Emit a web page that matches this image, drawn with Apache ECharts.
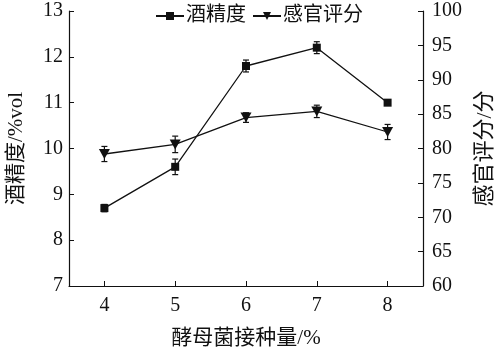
<!DOCTYPE html>
<html>
<head>
<meta charset="utf-8">
<script src="https://cdn.jsdelivr.net/npm/echarts@6/dist/echarts.min.js"></script>
<style>
html,body{margin:0;padding:0;background:#fff;}
#c{width:495px;height:355px;}
</style>
</head>
<body>
<div id="c"></div>
<script>
var categories = ['4', '5', '6', '7', '8'];
var alcohol = [8.7, 9.6, 11.8, 12.2, 11.0];
var alcoholErr = [0.08, 0.17, 0.13, 0.13, 0.03];
var sensory = [79.2, 80.6, 84.5, 85.4, 82.4];
var sensoryErr = [1.1, 1.2, 0.7, 0.9, 1.1];
var leftTicks = {min: 7, max: 13, interval: 1};
var rightTicks = {min: 60, max: 100, interval: 5};

var FONT = "'Times New Roman','Liberation Serif','Noto Sans CJK SC',serif";
var chart = echarts.init(document.getElementById('c'), null, {renderer: 'canvas'});

function errData(vals, errs) {
  return vals.map(function (v, i) { return [i, v - errs[i], v + errs[i]]; });
}
function errRender(params, api) {
  var x = api.value(0);
  var lo = api.coord([x, api.value(1)]);
  var hi = api.coord([x, api.value(2)]);
  var w = 3;
  var st = {stroke: '#111', lineWidth: 1.2};
  return {
    type: 'group',
    children: [
      {type: 'line', shape: {x1: lo[0], y1: lo[1], x2: hi[0], y2: hi[1]}, style: st},
      {type: 'line', shape: {x1: lo[0] - w, y1: lo[1], x2: lo[0] + w, y2: lo[1]}, style: st},
      {type: 'line', shape: {x1: hi[0] - w, y1: hi[1], x2: hi[0] + w, y2: hi[1]}, style: st}
    ]
  };
}

var axisLineStyle = {show: true, lineStyle: {color: '#111', width: 1.2}};
var labelStyle = {color: '#111', fontFamily: FONT, fontSize: 20};

chart.setOption({
  animation: false,
  backgroundColor: '#fff',
  textStyle: {fontFamily: FONT},
  legend: {
    data: ['酒精度', '感官评分'],
    left: 150,
    top: 1,
    itemWidth: 28,
    itemHeight: 10,
    itemGap: 6,
    textStyle: {color: '#111', fontFamily: FONT, fontSize: 20, padding: [0, 0, 0, -3]}
  },
  grid: {left: 69, right: 72, top: 11, bottom: 69, containLabel: false, outerBoundsMode: 'none'},
  xAxis: {
    type: 'category',
    data: categories,
    boundaryGap: true,
    axisLine: axisLineStyle,
    axisTick: {show: true, inside: true, alignWithLabel: true, length: 5, lineStyle: {color: '#111'}},
    axisLabel: Object.assign({margin: 10}, labelStyle),
    splitLine: {show: false},
    name: '酵母菌接种量/%',
    nameLocation: 'middle',
    nameGap: 42,
    nameTextStyle: {color: '#111', fontFamily: FONT, fontSize: 21}
  },
  yAxis: [{
    type: 'value',
    position: 'left',
    min: leftTicks.min, max: leftTicks.max, interval: leftTicks.interval,
    axisLine: axisLineStyle,
    axisTick: {show: true, inside: true, length: 5, lineStyle: {color: '#111'}},
    axisLabel: Object.assign({margin: 6}, labelStyle),
    splitLine: {show: false},
    name: '酒精度/%vol',
    nameLocation: 'middle',
    nameRotate: 90,
    nameGap: 42,
    nameTextStyle: {color: '#111', fontFamily: FONT, fontSize: 21}
  }, {
    type: 'value',
    position: 'right',
    min: rightTicks.min, max: rightTicks.max, interval: rightTicks.interval,
    axisLine: axisLineStyle,
    axisTick: {show: true, inside: true, length: 5, lineStyle: {color: '#111'}},
    axisLabel: Object.assign({margin: 9}, labelStyle),
    splitLine: {show: false},
    name: '感官评分/分',
    nameLocation: 'middle',
    nameRotate: 90,
    nameGap: 51,
    nameTextStyle: {color: '#111', fontFamily: FONT, fontSize: 22}
  }],
  series: [{
    name: '酒精度',
    type: 'line',
    yAxisIndex: 0,
    data: alcohol,
    symbol: 'rect',
    symbolSize: 8,
    color: '#111',
    lineStyle: {color: '#111', width: 1.3},
    itemStyle: {color: '#111'},
    z: 3
  }, {
    name: '感官评分',
    type: 'line',
    yAxisIndex: 1,
    data: sensory,
    symbol: 'triangle',
    symbolRotate: 180,
    symbolSize: [11, 10],
    color: '#111',
    lineStyle: {color: '#111', width: 1.3},
    itemStyle: {color: '#111'},
    z: 3
  }, {
    name: 'errA',
    type: 'custom',
    yAxisIndex: 0,
    data: errData(alcohol, alcoholErr),
    renderItem: errRender,
    encode: {x: 0, y: [1, 2]},
    z: 4
  }, {
    name: 'errS',
    type: 'custom',
    yAxisIndex: 1,
    data: errData(sensory, sensoryErr),
    renderItem: errRender,
    encode: {x: 0, y: [1, 2]},
    z: 4
  }]
});
</script>
</body>
</html>
